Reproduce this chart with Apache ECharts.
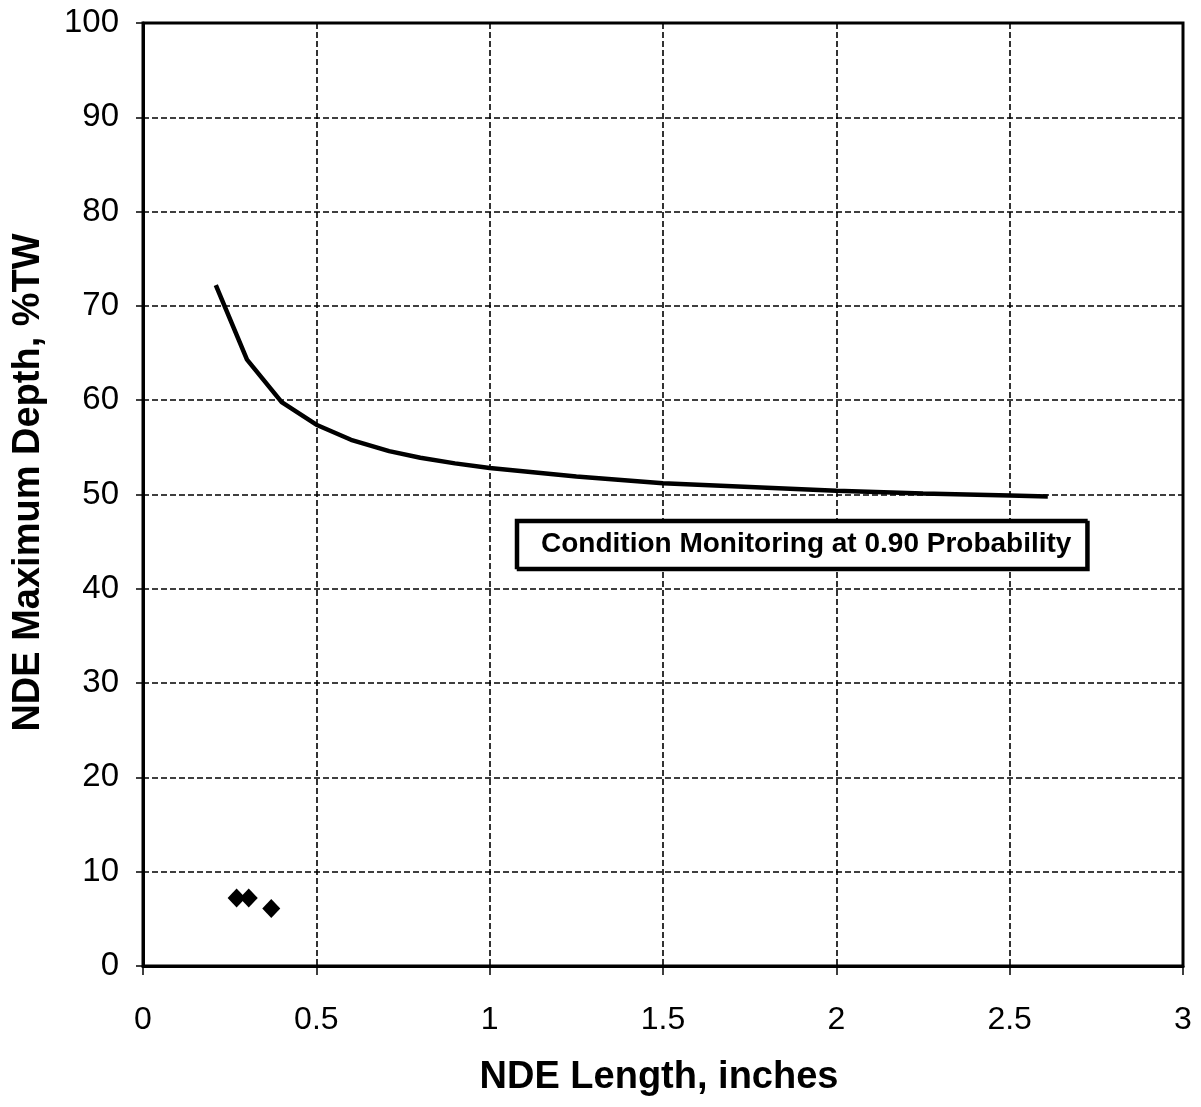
<!DOCTYPE html>
<html>
<head>
<meta charset="utf-8">
<script src="https://cdn.jsdelivr.net/npm/echarts@6/dist/echarts.min.js"></script>
<style>
  html, body { margin: 0; padding: 0; background: #fff; }
  #chart { width: 1201px; height: 1107px; }
</style>
</head>
<body>
<div id="chart"></div>
<script>
// Condition monitoring limit curve (NDE length in inches, max depth in %TW)
const curveLength = [0.21, 0.30, 0.40, 0.50, 0.60, 0.71, 0.80, 0.90, 1.00, 1.25, 1.50, 1.75, 2.00, 2.25, 2.50, 2.61];
const curveDepth  = [72.2, 64.3, 59.8, 57.4, 55.8, 54.6, 53.9, 53.3, 52.8, 51.9, 51.2, 50.8, 50.4, 50.1, 49.9, 49.8];

// Measured flaw indications
const flawLength = [0.27, 0.305, 0.37];
const flawDepth  = [7.2, 7.2, 6.1];

const curveName = 'Condition Monitoring at 0.90 Probability';
const xTitle = 'NDE Length, inches';
const yTitle = 'NDE Maximum Depth, %TW';

const curveData = curveLength.map((x, i) => [x, curveDepth[i]]);
const flawData = flawLength.map((x, i) => [x, flawDepth[i]]);

const gridLine = { show: true, lineStyle: { color: '#000', width: 1.6, type: [6, 3] } };
const labelFont = 'Liberation Sans, Arial, sans-serif';

const chart = echarts.init(document.getElementById('chart'), null, { renderer: 'canvas' });
chart.setOption({
  backgroundColor: '#fff',
  animation: false,
  grid: {
    left: 143, right: 18, top: 23, bottom: 141,
    show: true, borderColor: '#000', borderWidth: 3, backgroundColor: 'transparent'
  },
  legend: {
    data: [{ name: curveName, icon: 'none' }],
    left: 516, top: 520,
    itemWidth: 0, itemHeight: 0, itemGap: 0,
    padding: [10, 15, 10, 20],
    backgroundColor: '#fff',
    borderColor: '#000', borderWidth: 2.5,
    shadowColor: '#000', shadowBlur: 0, shadowOffsetX: 2, shadowOffsetY: 2,
    selectedMode: false,
    textStyle: {
      fontFamily: labelFont,
      fontWeight: 'bold', fontSize: 28, color: '#000'
    }
  },
  xAxis: {
    type: 'value', min: 0, max: 3, interval: 0.5,
    name: xTitle, nameLocation: 'middle', nameGap: 93,
    nameTextStyle: { fontFamily: labelFont, fontWeight: 'bold', fontSize: 38, color: '#000', padding: [0, 8, 0, 0] },
    axisLine: { show: true, onZero: false, lineStyle: { color: '#000', width: 3 } },
    axisTick: { show: true, inside: false, length: 9, lineStyle: { color: '#000', width: 1.5 } },
    axisLabel: { margin: 38, fontFamily: labelFont, fontSize: 32, color: '#000' },
    splitLine: gridLine
  },
  yAxis: {
    type: 'value', min: 0, max: 100, interval: 10,
    name: yTitle, nameLocation: 'middle', nameGap: 95, nameRotate: 90,
    nameTextStyle: { fontFamily: labelFont, fontWeight: 'bold', fontSize: 38, color: '#000', padding: [0, 0, 0, 24] },
    axisLine: { show: true, onZero: false, lineStyle: { color: '#000', width: 3 } },
    axisTick: { show: true, inside: false, length: 7, lineStyle: { color: '#000', width: 1.5 } },
    axisLabel: { margin: 24, fontFamily: labelFont, fontSize: 33, color: '#000' },
    splitLine: gridLine
  },
  series: [
    {
      name: curveName,
      type: 'line',
      data: curveData,
      showSymbol: false,
      symbol: 'none',
      lineStyle: { color: '#000', width: 4.5 },
      itemStyle: { color: '#000' },
      z: 3
    },
    {
      name: 'Flaws',
      type: 'scatter',
      data: flawData,
      symbol: 'diamond',
      symbolSize: [18, 19],
      itemStyle: { color: '#000', opacity: 1 },
      z: 4
    }
  ]
});
</script>
</body>
</html>
